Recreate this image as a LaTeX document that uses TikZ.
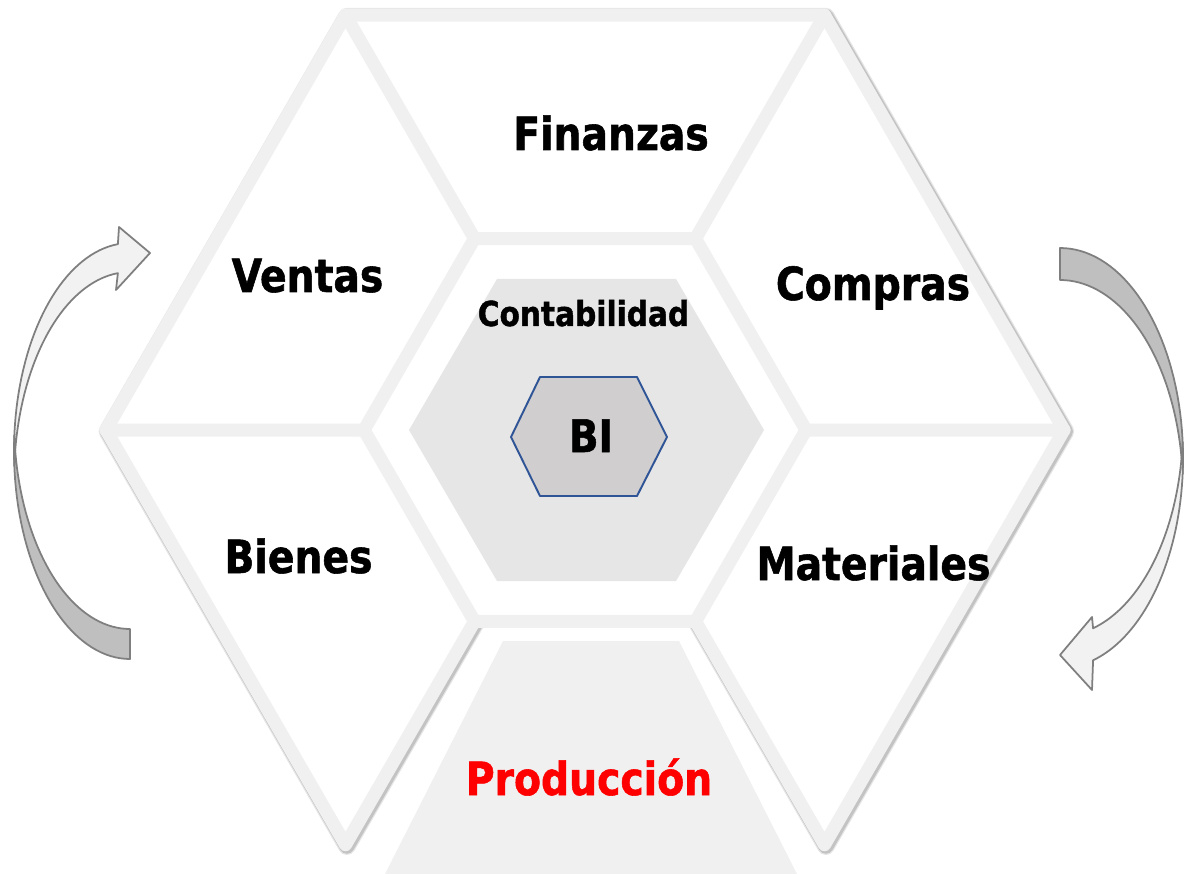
\documentclass[tikz,border=0pt]{standalone}
\usepackage{fontspec}
\setmainfont{DejaVu Sans}[FakeStretch=0.86, BoldFeatures={FakeBold=1.2}]
\usepackage{tikz}
\usetikzlibrary{calc}
\definecolor{bandgray}{HTML}{F0F0F0}
\definecolor{innergray}{HTML}{E7E6E6}
\definecolor{bigray}{HTML}{D0CECE}
\definecolor{biblue}{HTML}{2F5597}
\definecolor{arrowdark}{HTML}{BFBFBF}
\definecolor{arrowlight}{HTML}{F2F2F2}
\definecolor{arrowline}{HTML}{7F7F7F}
\tikzset{
  band/.style={draw=bandgray, line width=7.4pt, line join=round, line cap=round},
  shade/.style={draw=black, line join=round, line cap=round},
  area/.style={font=\bfseries\fontsize{26}{30}\selectfont, anchor=base},
  arrowpart/.style={draw=arrowline, line width=1pt, line join=round}
}

\begin{document}
\begin{tikzpicture}[x=0.02cm, y=-0.02cm]
\useasboundingbox (0,0) rectangle (1185,874);
% corners of the big hexagon and of the ring
\coordinate (ol) at (106,430);
\coordinate (otl) at (345.5,15.2);
\coordinate (otr) at (824.5,15.2);
\coordinate (or) at (1064,430);
\coordinate (obr) at (824.5,844.8);
\coordinate (obl) at (345.5,844.8);
\coordinate (rl) at (364,430);
\coordinate (rtl) at (474.5,238.6);
\coordinate (rtr) at (695.5,238.6);
\coordinate (rr) at (806,430);
\coordinate (rbr) at (695.5,621.4);
\coordinate (rbl) at (474.5,621.4);
% shadow
\begin{scope}[transform canvas={xshift=0.8pt, yshift=-0.8pt}]
\draw[shade, opacity=0.10, line width=10pt] (rbl) -- (obl) -- (ol) -- (otl) -- (otr) -- (or) -- (obr) -- (rbr);
\draw[shade, opacity=0.15, line width=8.6pt] (rbl) -- (obl) -- (ol) -- (otl) -- (otr) -- (or) -- (obr) -- (rbr);
\end{scope}
\fill[white] (rbl) -- (obl) -- (ol) -- (otl) -- (otr) -- (or) -- (obr) -- (rbr) -- cycle;
% cells
\draw[band] (rbl) -- (obl) -- (ol) -- (otl) -- (otr) -- (or) -- (obr) -- (rbr);
\draw[band] (rl) -- (rtl) -- (rtr) -- (rr) -- (rbr) -- (rbl) -- cycle;
\draw[band] (ol) -- (rl) (otl) -- (rtl) (otr) -- (rtr) (or) -- (rr);
\fill[bandgray] (503,641) -- (679,641) -- (797,874) -- (385,874) -- cycle;
% centre
\fill[innergray] (764,430) -- (676,279) -- (497,279) -- (409,430) -- (497,581) -- (676,581) -- cycle;
\filldraw[fill=bigray, draw=biblue, line width=1.1pt, line join=round] (667,437) -- (637,377) -- (540,377) -- (511,437) -- (540,496) -- (637,496) -- cycle;
% labels
\node[area] (fin) at (611,150) {Finanzas};
\node[area] (ven) at (307.5,292) {Ventas};
\node[area] (com) at (873,300) {Compras};
\node[area] (bie) at (298.5,573) {Bienes};
\node[area] (mat) at (873.5,580) {Materiales};
\node[area, text=red] (pro) at (589,795) {Producción};
\node[font=\bfseries\fontsize{19.6}{23}\selectfont, anchor=base] (con) at (583.5,326) {Contabilidad};
\node[font=\bfseries\fontsize{25.5}{30}\selectfont, anchor=base] (bi) at (591,452) {BI};
% left arrow
\draw[arrowpart, fill=arrowdark] plot[domain=176:270, samples=40] ({130+116*cos(\x)},{451-208*sin(\x)})
  -- plot[domain=270:184, samples=40] ({130+116*cos(\x)},{421-208*sin(\x)}) -- cycle;
\draw[arrowpart, fill=arrowlight] plot[domain=96:184, samples=40] ({130+116*cos(\x)},{451-208*sin(\x)})
  -- plot[domain=176:96, samples=40] ({130+116*cos(\x)},{480-208*sin(\x)})
  -- (116,290) -- (150,253) -- (119,227) -- cycle;
% right arrow
\draw[arrowpart, fill=arrowdark] plot[domain=90:-4.37, samples=40] ({1060+123*cos(\x)},{458-210*sin(\x)})
  -- plot[domain=4.37:90, samples=40] ({1060+123*cos(\x)},{490-210*sin(\x)}) -- cycle;
\draw[arrowpart, fill=arrowlight] plot[domain=4.37:-74.4, samples=40] ({1060+123*cos(\x)},{458-210*sin(\x)})
  -- (1092,690) -- (1060,655) -- (1092,617)
  -- plot[domain=-74.4:-4.37, samples=40] ({1060+123*cos(\x)},{426-210*sin(\x)}) -- cycle;
\end{tikzpicture}
\end{document}
